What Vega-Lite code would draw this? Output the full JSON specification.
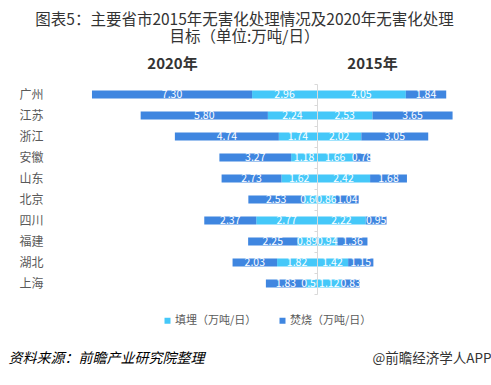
{
  "$schema": "https://vega.github.io/schema/vega-lite/v6.json",
  "background": "white",
  "padding": {"left": 8, "top": 13, "right": 0, "bottom": 0},
  "bounds": "flush",
  "spacing": 0,
  "title": {
    "text": ["图表5：主要省市2015年无害化处理情况及2020年无害化处理", "目标（单位:万吨/日）"],
    "fontSize": 15.5, "lineHeight": 16.5, "fontWeight": "normal", "color": "#333333",
    "font": "Noto Sans CJK SC", "anchor": "middle", "dx": -5, "offset": 11.5
  },
  "config": {
    "view": {"stroke": null},
    "font": "Noto Sans CJK SC",
    "legend": {"orient": "none", "legendX": 72, "legendY": 231, "direction": "horizontal", "title": null,
      "symbolType": "square", "symbolSize": 36, "labelFontSize": 11, "labelColor": "#595959", "columnPadding": 20, "symbolStrokeWidth": 0, "labelOffset": 2}
  },
  "datasets": {
    "d": [
      {"city": "广州", "year": "2020", "type": "填埋（万吨/日）", "value": 2.96},
      {"city": "广州", "year": "2020", "type": "焚烧（万吨/日）", "value": 7.30},
      {"city": "广州", "year": "2015", "type": "填埋（万吨/日）", "value": 4.05},
      {"city": "广州", "year": "2015", "type": "焚烧（万吨/日）", "value": 1.84},
      {"city": "江苏", "year": "2020", "type": "填埋（万吨/日）", "value": 2.24},
      {"city": "江苏", "year": "2020", "type": "焚烧（万吨/日）", "value": 5.80},
      {"city": "江苏", "year": "2015", "type": "填埋（万吨/日）", "value": 2.53},
      {"city": "江苏", "year": "2015", "type": "焚烧（万吨/日）", "value": 3.65},
      {"city": "浙江", "year": "2020", "type": "填埋（万吨/日）", "value": 1.74},
      {"city": "浙江", "year": "2020", "type": "焚烧（万吨/日）", "value": 4.74},
      {"city": "浙江", "year": "2015", "type": "填埋（万吨/日）", "value": 2.02},
      {"city": "浙江", "year": "2015", "type": "焚烧（万吨/日）", "value": 3.05},
      {"city": "安徽", "year": "2020", "type": "填埋（万吨/日）", "value": 1.18},
      {"city": "安徽", "year": "2020", "type": "焚烧（万吨/日）", "value": 3.27},
      {"city": "安徽", "year": "2015", "type": "填埋（万吨/日）", "value": 1.66},
      {"city": "安徽", "year": "2015", "type": "焚烧（万吨/日）", "value": 0.78},
      {"city": "山东", "year": "2020", "type": "填埋（万吨/日）", "value": 1.62},
      {"city": "山东", "year": "2020", "type": "焚烧（万吨/日）", "value": 2.73},
      {"city": "山东", "year": "2015", "type": "填埋（万吨/日）", "value": 2.42},
      {"city": "山东", "year": "2015", "type": "焚烧（万吨/日）", "value": 1.68},
      {"city": "北京", "year": "2020", "type": "填埋（万吨/日）", "value": 0.60},
      {"city": "北京", "year": "2020", "type": "焚烧（万吨/日）", "value": 2.53},
      {"city": "北京", "year": "2015", "type": "填埋（万吨/日）", "value": 0.86},
      {"city": "北京", "year": "2015", "type": "焚烧（万吨/日）", "value": 1.04},
      {"city": "四川", "year": "2020", "type": "填埋（万吨/日）", "value": 2.77},
      {"city": "四川", "year": "2020", "type": "焚烧（万吨/日）", "value": 2.37},
      {"city": "四川", "year": "2015", "type": "填埋（万吨/日）", "value": 2.22},
      {"city": "四川", "year": "2015", "type": "焚烧（万吨/日）", "value": 0.95},
      {"city": "福建", "year": "2020", "type": "填埋（万吨/日）", "value": 0.89},
      {"city": "福建", "year": "2020", "type": "焚烧（万吨/日）", "value": 2.25},
      {"city": "福建", "year": "2015", "type": "填埋（万吨/日）", "value": 0.94},
      {"city": "福建", "year": "2015", "type": "焚烧（万吨/日）", "value": 1.36},
      {"city": "湖北", "year": "2020", "type": "填埋（万吨/日）", "value": 1.82},
      {"city": "湖北", "year": "2020", "type": "焚烧（万吨/日）", "value": 2.03},
      {"city": "湖北", "year": "2015", "type": "填埋（万吨/日）", "value": 1.42},
      {"city": "湖北", "year": "2015", "type": "焚烧（万吨/日）", "value": 1.15},
      {"city": "上海", "year": "2020", "type": "填埋（万吨/日）", "value": 0.50},
      {"city": "上海", "year": "2020", "type": "焚烧（万吨/日）", "value": 1.83},
      {"city": "上海", "year": "2015", "type": "填埋（万吨/日）", "value": 1.12},
      {"city": "上海", "year": "2015", "type": "焚烧（万吨/日）", "value": 0.83}
    ]
  },
  "resolve": {"scale": {"color": "shared", "y": "shared"}},
  "hconcat": [
    {
      "width": 227, "height": 210,
      "data": {"name": "d"},
      "title": {"text": "2020年", "fontSize": 15, "fontWeight": "bold", "color": "#333333", "dx": -31, "offset": 12},
      "transform": [
        {"filter": "datum.year == '2020'"},
        {"stack": "value", "groupby": ["city"], "sort": [{"field": "type", "order": "ascending"}], "as": ["v0", "v1"]}
      ],
      "encoding": {
        "y": {"field": "city", "type": "nominal",
          "sort": ["广州", "江苏", "浙江", "安徽", "山东", "北京", "四川", "福建", "湖北", "上海"],
          "scale": {"paddingInner": 0, "paddingOuter": 0},
          "axis": {"title": null, "domain": false, "ticks": false, "labelPadding": 47, "labelFontSize": 12, "labelColor": "#595959"}}
      },
      "layer": [
        {"mark": {"type": "bar", "height": 8},
          "encoding": {
            "x": {"field": "v0", "type": "quantitative", "scale": {"domain": [0, 10.35], "reverse": true, "nice": false, "zero": false},
              "axis": {"labels": false, "ticks": false, "domain": false, "grid": false,
                "title": "资料来源：前瞻产业研究院整理", "titleX": -82, "titleY": 64, "titleAlign": "left", "titleAnchor": null,
                "titleBaseline": "middle", "titleFontSize": 14, "titleFontStyle": "italic", "titleFontWeight": "normal", "titleColor": "#000000"}},
            "x2": {"field": "v1"},
            "color": {"field": "type", "type": "nominal",
              "scale": {"domain": ["填埋（万吨/日）", "焚烧（万吨/日）"], "range": ["#45c8f9", "#3f86e0"]}}}},
        {"transform": [
            {"fold": ["v0", "v1"], "as": ["edge", "pos"]},
            {"aggregate": [{"op": "mean", "field": "pos", "as": "mid"}, {"op": "max", "field": "value", "as": "value"}], "groupby": ["city", "type"]}
          ],
          "mark": {"type": "text", "color": "white", "fontSize": 10.5, "baseline": "middle"},
          "encoding": {
            "x": {"field": "mid", "type": "quantitative"},
            "text": {"field": "value", "type": "quantitative", "format": ".2f"}}}
      ]
    },
    {
      "width": 163, "height": 210,
      "data": {"name": "d"},
      "title": {"text": "2015年", "fontSize": 15, "fontWeight": "bold", "color": "#333333", "dx": -26, "offset": 12},
      "transform": [
        {"filter": "datum.year == '2015'"},
        {"stack": "value", "groupby": ["city"], "sort": [{"field": "type", "order": "ascending"}], "as": ["v0", "v1"]}
      ],
      "encoding": {
        "y": {"field": "city", "type": "nominal",
          "sort": ["广州", "江苏", "浙江", "安徽", "山东", "北京", "四川", "福建", "湖北", "上海"],
          "scale": {"paddingInner": 0, "paddingOuter": 0},
          "axis": {"title": null, "labels": false, "domain": true, "domainColor": "#d9d9d9", "ticks": true, "tickSize": 3,
            "tickColor": "#d9d9d9", "tickBand": "extent", "zindex": 1}}
      },
      "layer": [
        {"mark": {"type": "bar", "height": 8},
          "encoding": {
            "x": {"field": "v0", "type": "quantitative", "scale": {"domain": [0, 7.43], "nice": false, "zero": false},
              "axis": {"labels": false, "ticks": false, "domain": false, "grid": false,
                "title": "@前瞻经济学人APP", "titleX": 174, "titleY": 64, "titleAlign": "right", "titleAnchor": null,
                "titleBaseline": "middle", "titleFontSize": 13.5, "titleFontWeight": "normal", "titleColor": "#333333"}},
            "x2": {"field": "v1"},
            "color": {"field": "type", "type": "nominal",
              "scale": {"domain": ["填埋（万吨/日）", "焚烧（万吨/日）"], "range": ["#45c8f9", "#3f86e0"]}}}},
        {"transform": [
            {"fold": ["v0", "v1"], "as": ["edge", "pos"]},
            {"aggregate": [{"op": "mean", "field": "pos", "as": "mid"}, {"op": "max", "field": "value", "as": "value"}], "groupby": ["city", "type"]}
          ],
          "mark": {"type": "text", "color": "white", "fontSize": 10.5, "baseline": "middle"},
          "encoding": {
            "x": {"field": "mid", "type": "quantitative"},
            "text": {"field": "value", "type": "quantitative", "format": ".2f"}}}
      ]
    }
  ]
}
